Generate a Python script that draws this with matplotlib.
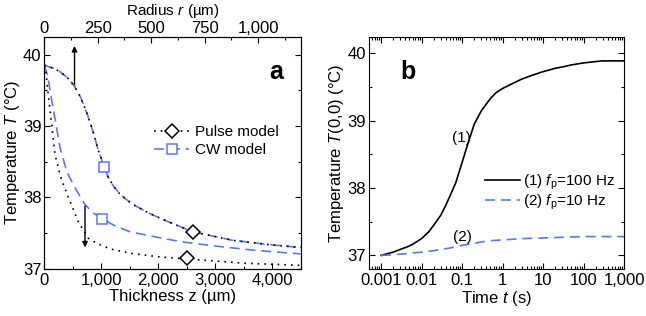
import numpy as np
import matplotlib
matplotlib.use("Agg")
import matplotlib.pyplot as plt
from matplotlib.ticker import MultipleLocator, FixedLocator, FuncFormatter, LogLocator, NullFormatter

plt.rcParams['font.family'] = ['Liberation Sans', 'DejaVu Sans']
plt.rcParams['mathtext.fontset'] = 'custom'
plt.rcParams['mathtext.rm'] = 'Liberation Sans'
plt.rcParams['mathtext.it'] = 'Liberation Sans:italic'
plt.rcParams['font.size'] = 12

BLUE = '#5a78f0'

# panel a: radial profile (top axis, r in um) - pulse and CW coincide
r_radius = [0, 40, 73, 110, 140, 170, 198, 225, 252, 280, 300, 323, 350, 380, 416, 490, 572, 694, 882, 1050, 1200]
T_radius = [39.85, 39.81, 39.76, 39.67, 39.56, 39.40, 39.19, 38.95, 38.67, 38.42, 38.28, 38.16, 38.06, 37.98, 37.90, 37.78, 37.67, 37.52, 37.40, 37.34, 37.30]

# panel a: depth profiles (bottom axis, z in um)
z_cw = [0, 60, 120, 188, 275, 400, 550, 714, 850, 1012, 1250, 1500, 2000, 2400, 3000, 3700, 4500]
T_cw = [39.85, 39.70, 39.40, 39.10, 38.70, 38.35, 38.12, 37.90, 37.79, 37.70, 37.60, 37.52, 37.44, 37.38, 37.32, 37.26, 37.21]
z_pulse = [0, 30, 60, 100, 158, 188, 250, 300, 393, 500, 596, 771, 918, 1152, 1502, 2000, 2496, 3500, 4500]
T_pulse = [39.85, 39.75, 39.50, 39.22, 38.81, 38.60, 38.40, 38.25, 38.06, 37.85, 37.66, 37.43, 37.36, 37.28, 37.22, 37.17, 37.14, 37.08, 37.05]

# markers
cw_mark_r, cw_mark_rT = [280], [38.42]
pulse_mark_r, pulse_mark_rT = [694], [37.52]
cw_mark_z, cw_mark_zT = [1012], [37.70]
pulse_mark_z, pulse_mark_zT = [2496], [37.15]

# panel b: centre temperature vs time
t1 = [0.001, 0.0015, 0.002, 0.003, 0.005, 0.007, 0.01, 0.015, 0.02, 0.03, 0.04, 0.05, 0.07, 0.1,
      0.15, 0.2, 0.3, 0.5, 0.7, 1, 2, 3, 5, 10, 20, 30, 50, 100, 200, 300, 1000]
T1 = [37.0, 37.03, 37.05, 37.09, 37.14, 37.19, 37.25, 37.35, 37.45, 37.60, 37.75, 37.88, 38.08, 38.38,
      38.72, 38.95, 39.15, 39.33, 39.42, 39.48, 39.57, 39.62, 39.67, 39.73, 39.78, 39.80, 39.83, 39.86, 39.88, 39.89, 39.89]
t2 = [0.001, 0.002, 0.003, 0.005, 0.01, 0.02, 0.03, 0.05, 0.1, 0.2, 0.3, 0.5, 1, 3, 10, 30, 100, 300, 1000]
T2 = [37.0, 37.01, 37.02, 37.03, 37.05, 37.07, 37.09, 37.11, 37.15, 37.18, 37.20, 37.22, 37.23, 37.25, 37.26, 37.27, 37.28, 37.28, 37.28]

fig = plt.figure(figsize=(6.46, 3.16), dpi=100)
ax = fig.add_axes([0.0686, 0.149, 0.397, 0.735])
ax2 = ax.twiny()

dash = (0, (6, 3.5))
dot = (0, (1, 3))

ax.plot(z_cw, T_cw, color=BLUE, ls=dash, lw=1.2)
ax.plot(z_pulse, T_pulse, color='k', ls=dot, lw=1.2)
ax.plot(cw_mark_z, cw_mark_zT, 's', mfc='white', mec=BLUE, ms=7, mew=1.1)
ax.plot(pulse_mark_z, pulse_mark_zT, 'D', mfc='white', mec='k', ms=7, mew=1.1)

ax2.plot(r_radius, T_radius, color=BLUE, ls=dash, lw=1.2)
ax2.plot(r_radius, T_radius, color='k', ls=dot, lw=1.2)
ax2.plot(cw_mark_r, cw_mark_rT, 's', mfc='white', mec=BLUE, ms=7, mew=1.1)
ax2.plot(pulse_mark_r, pulse_mark_rT, 'D', mfc='white', mec='k', ms=7, mew=1.1)

ax.set_xlim(0, 4500)
ax.set_ylim(37, 40.25)
ax2.set_xlim(0, 1200)
ax.xaxis.set_major_locator(MultipleLocator(1000))
ax.xaxis.set_minor_locator(MultipleLocator(500))
ax.yaxis.set_major_locator(MultipleLocator(1))
ax.yaxis.set_minor_locator(MultipleLocator(0.5))
ax2.xaxis.set_major_locator(MultipleLocator(250))
ax2.xaxis.set_minor_locator(MultipleLocator(125))
comma = FuncFormatter(lambda v, p: '{:,}'.format(int(round(v))))
ax.xaxis.set_major_formatter(comma)
ax2.xaxis.set_major_formatter(comma)
ax.tick_params(which='both', direction='in', right=True, top=False)
ax2.tick_params(which='both', direction='in')
for a in (ax, ax2):
    a.tick_params(which='major', length=4, width=0.8)
    a.tick_params(which='minor', length=2.5, width=0.8)
ax.tick_params(axis='y', pad=2)
ax.tick_params(axis='x', pad=3)
ax2.tick_params(axis='x', pad=0.5)

ax.set_xlabel('Thickness z (\u00b5m)', labelpad=1)
ax.set_ylabel('Temperature $T$ (\u00b0C)', labelpad=1)
ax2.set_xlabel('Radius $r$ (\u00b5m)', labelpad=4, fontsize=11)

ax.annotate('', xy=(530, 40.12), xytext=(530, 39.55),
            arrowprops=dict(arrowstyle='-|>', color='k', lw=1, mutation_scale=8, shrinkA=0, shrinkB=0))
ax.annotate('', xy=(714, 37.30), xytext=(714, 37.88),
            arrowprops=dict(arrowstyle='-|>', color='k', lw=1, mutation_scale=8, shrinkA=0, shrinkB=0))
ax.text(4074, 39.76, 'a', fontsize=18, fontweight='bold', ha='center', va='center')

h1, = ax.plot([], [], color='k', ls=dot, lw=1.2, marker='D', mfc='white', mec='k', ms=7, mew=1.1)
h2, = ax.plot([], [], color=BLUE, ls=dash, lw=1.2, marker='s', mfc='white', mec=BLUE, ms=7, mew=1.1)
ax.legend([h1, h2], ['Pulse model', 'CW model'], loc='center left', bbox_to_anchor=(0.375, 0.55),
          frameon=False, fontsize=11, handlelength=2.3, handletextpad=0.4, labelspacing=0.3, numpoints=1)

# panel b
bx = fig.add_axes([0.571, 0.149, 0.395, 0.735])
l1, = bx.plot(t1, T1, color='k', lw=1.2)
l2, = bx.plot(t2, T2, color=BLUE, ls=dash, lw=1.2)
bx.set_xscale('log')
bx.set_xlim(5e-4, 1000)
bx.set_ylim(36.8, 40.25)
bx.xaxis.set_major_locator(FixedLocator([0.001, 0.01, 0.1, 1, 10, 100, 1000]))
bx.xaxis.set_major_formatter(FuncFormatter(lambda v, p: '{:,}'.format(int(v)) if v >= 1 else '{:g}'.format(v)))
bx.xaxis.set_minor_locator(LogLocator(base=10, subs=np.arange(2, 10), numticks=20))
bx.xaxis.set_minor_formatter(NullFormatter())
bx.yaxis.set_major_locator(MultipleLocator(1))
bx.yaxis.set_minor_locator(MultipleLocator(0.5))
bx.tick_params(which='both', direction='in', top=True, right=True)
bx.tick_params(which='major', length=4, width=0.8)
bx.tick_params(which='minor', length=2.5, width=0.8)
bx.tick_params(axis='y', pad=2)
bx.tick_params(axis='x', pad=3)
bx.set_xlabel('Time $t$ (s)', labelpad=1)
bx.set_ylabel('Temperature $T$(0,0) (\u00b0C)', labelpad=1)
bx.text(0.0046, 39.72, 'b', fontsize=18, fontweight='bold', ha='center', va='center')
bx.text(0.095, 38.75, '(1)', fontsize=11, ha='center', va='center')
bx.text(0.1, 37.28, '(2)', fontsize=11, ha='center', va='center')
bx.legend([l1, l2], ['(1) $f_{\\rm p}$=100 Hz', '(2) $f_{\\rm p}$=10 Hz'], loc='center left',
          bbox_to_anchor=(0.40, 0.33), frameon=False, fontsize=11, handlelength=2.3,
          handletextpad=0.2, labelspacing=0.05)

fig.savefig('out.png', dpi=100)
